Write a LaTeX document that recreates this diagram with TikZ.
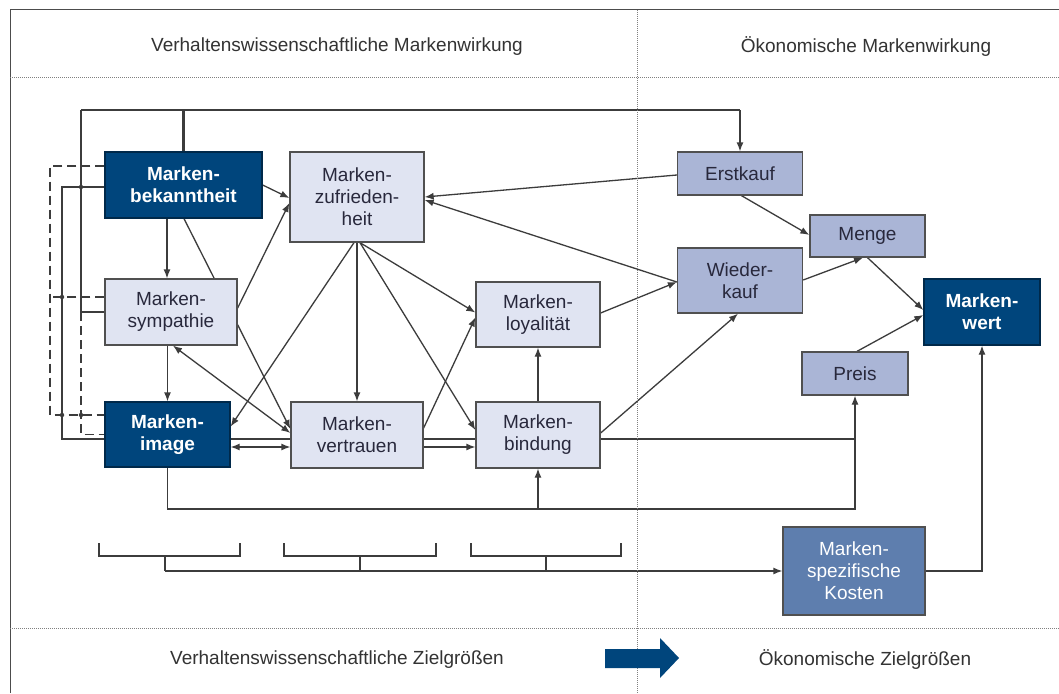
\documentclass[tikz,border=0pt]{standalone}
\usepackage{fontspec}
\setmainfont{Liberation Sans}
\usetikzlibrary{arrows.meta,calc,backgrounds}
\definecolor{dark}{RGB}{0,69,124}
\definecolor{light}{RGB}{224,228,242}
\definecolor{mid}{RGB}{170,181,214}
\definecolor{kost}{RGB}{94,126,174}
\definecolor{edgec}{RGB}{60,60,60}
\definecolor{txt}{RGB}{40,40,60}
\begin{document}
\begin{tikzpicture}[x=1pt,y=-1pt,
 box/.style={draw=edgec!90, line width=1.3pt, inner sep=0pt, align=center, font=\fontsize{19}{22}\selectfont},
 darkbox/.style={box, fill=dark, text=white, draw=dark!60!black, font=\fontsize{19}{22}\selectfont\bfseries},
 lightbox/.style={box, fill=light, text=txt},
 midbox/.style={box, fill=mid, text=txt},
 kbox/.style={box, fill=kost, text=white},
 conn/.style={draw=edgec, line width=1.3pt},
 arr/.style={conn, -{Latex[length=9pt,width=7pt]}},
 darr/.style={conn, {Latex[length=9pt,width=7pt]}-{Latex[length=9pt,width=7pt]}},
 dsh/.style={conn, dash pattern=on 9pt off 5pt},
 brk/.style={draw=edgec, line width=2pt},
 sepline/.style={draw=gray, line width=0.9pt, dash pattern=on 1pt off 1pt},
 hdr/.style={font=\fontsize{19}{22}\selectfont, text=black!80},
 jdot/.style={circle, fill=edgec, inner sep=0pt, minimum size=4.5pt},
]
\useasboundingbox (0,0) rectangle (1059,693);
% frame
\draw[line width=1pt, gray!60!black] (10,693) -- (10,10) -- (1059,10);
\draw[sepline] (10,77) -- (1059,77);
\draw[sepline] (10,628) -- (1059,628);
\draw[sepline] (637,10) -- (637,693);
% headers
\node[hdr] (h1) at (337,47) {Verhaltenswissenschaftliche Markenwirkung};
\node[hdr] (h2) at (866,47) {Ökonomische Markenwirkung};
\node[hdr] (f1) at (337,660) {Verhaltenswissenschaftliche Zielgrößen};
\node[hdr] (f2) at (865,660) {Ökonomische Zielgrößen};
\fill[dark] (605,649) -- (660,649) -- (660,638) -- (679,658) -- (660,678) -- (660,668) -- (605,668) -- cycle;
% nodes
\node[darkbox, minimum width=157pt, minimum height=66pt] (bek) at (183.5,185) {Marken-\\bekanntheit};
\node[lightbox, minimum width=134pt, minimum height=90pt] (zuf) at (357,197) {Marken-\\zufrieden-\\heit};
\node[lightbox, minimum width=132pt, minimum height=66pt] (sym) at (171,312) {Marken-\\sympathie};
\node[darkbox, minimum width=125pt, minimum height=65pt] (img) at (167.5,434.5) {Marken-\\image};
\node[lightbox, minimum width=132pt, minimum height=66pt] (ver) at (357,435) {Marken-\\vertrauen};
\node[lightbox, minimum width=124pt, minimum height=65pt] (loy) at (538,314.5) {Marken-\\loyalität};
\node[lightbox, minimum width=124pt, minimum height=66pt] (bin) at (538,435) {Marken-\\bindung};
\node[midbox, minimum width=125pt, minimum height=43pt] (erst) at (740,173.5) {Erstkauf};
\node[midbox, minimum width=115pt, minimum height=42pt] (menge) at (867.5,236) {Menge};
\node[midbox, minimum width=125pt, minimum height=65pt] (wied) at (740,280.5) {Wieder-\\kauf};
\node[darkbox, minimum width=116pt, minimum height=66pt] (wert) at (982,312) {Marken-\\wert};
\node[midbox, minimum width=106pt, minimum height=43pt] (preis) at (855,373.5) {Preis};
\node[kbox, minimum width=142pt, minimum height=88pt] (kosten) at (854,571) {Marken-\\spezifische\\Kosten};
\begin{pgfonlayer}{background}
\fill[white] (0,0) rectangle (1059,693);
\coordinate (tl) at (81,110);
\coordinate (tr) at (740,110);
\coordinate (xa) at (50,0);
\coordinate (xb) at (62,0);
\coordinate (xc) at (81,0);
\coordinate (yb) at (0,509);
\coordinate (bus) at (165,571);
\coordinate (s1) at ($(sym.north)+(-4,0)$);
% top feedback
\draw[conn] (tl) -- (tr);
\draw[arr] (tr) -- (erst.north);
\draw[conn, line width=2.2pt] (bek.north) -- (bek.north |- tl);
\draw[conn] (tl) -- (tl |- sym.west) -- (sym.west);
\draw[dsh] (tl |- sym.west) -- ($(xc |- img.west)+(0,0)$) -- (img.west);
% dashed bracket
\draw[dsh] ($(bek.west)+(0,-19)$) -| ($(xa |- img.west)+(0,-19.5)$) -- ($(img.west)+(0,-19.5)$);
\draw[dsh] ($(sym.west)+(0,-15)$) -- ($(xa |- sym.west)+(0,-15)$);
% solid bracket and long line to Preis
\draw[arr] ($(bek.west)+(0,2)$) -| ($(xb |- img.west)+(0,4.5)$) -| (preis.south);
\draw[conn] (img.south) |- (preis.south |- yb) -- ($(preis.south)+(0,44)$);
\draw[arr] (bin.south |- yb) -- (bin.south);
% left chain
\draw[arr] (s1 |- bek.south) -- (s1);
\draw[arr] (img.north |- sym.south) -- (img.north);
\draw[arr] ($(bek.south)+(0.5,0)$) -- ($(ver.west)+(0,-6)$);
\draw[arr] (bek.east) -- ($(zuf.west)+(0,1)$);
\draw[arr] ($(sym.east)+(0,-4)$) -- ($(zuf.west)+(0,6)$);
\draw[darr] ($(sym.south)+(2,0)$) -- ($(ver.west)+(0,-2)$);
\draw[arr] ($(zuf.south)+(-3,0)$) -- ($(img.east)+(0,-8)$);
\draw[arr] (zuf.south) -- (ver.north);
\draw[arr] ($(zuf.south)+(3,0)$) -- ($(loy.west)+(0,-2)$);
\draw[arr] ($(zuf.south)+(3,0)$) -- ($(bin.west)+(0,-5)$);
\draw[arr] ($(ver.east)+(0,-7)$) -- ($(loy.west)+(0,3)$);
\draw[darr] ($(img.east)+(0,12.5)$) -- ($(ver.west)+(0,12)$);
\draw[arr] ($(ver.east)+(0,12)$) -- ($(bin.west)+(0,12)$);
\draw[arr] (bin.north) -- (loy.south);
% economic side
\draw[arr] ($(erst.west)+(0,1.5)$) -- (zuf.east);
\draw[arr] ($(wied.west)+(0,1.5)$) -- ($(zuf.east)+(0,3)$);
\draw[arr] ($(loy.east)+(0,-1.5)$) -- ($(wied.west)+(0,1.5)$);
\draw[arr] ($(bin.east)+(0,-2)$) -- ($(wied.south)+(-2,0)$);
\draw[arr] ($(erst.south)+(1.5,0)$) -- ($(menge.west)+(0,-1)$);
\draw[arr] ($(wied.east)+(0,-0.5)$) -- ($(menge.south)+(-4.5,0)$);
\draw[arr] (menge.south) -- ($(wert.west)+(0,-2)$);
\draw[arr] ($(preis.north)+(2,0)$) -- ($(wert.west)+(0,3)$);
\draw[arr] (kosten.east) -| (wert.south);
% brackets
\draw[brk] (99,543) |- (240,556) -- (240,543);
\draw[brk] (284,543) |- (436,556) -- (436,543);
\draw[brk] (471,543) |- (621,556) -- (621,543);
\draw[brk] (165,556) -- (bus);
\draw[brk] (360,556) -- (360,571);
\draw[brk] (546,556) -- (546,571);
\draw[arr] (bus) -- (kosten.west);
\end{pgfonlayer}
% junction dots
\node[jdot] (d1) at ($(xc |- bek.west)+(0,2)$) {};
\node[jdot] (d2) at ($(xb |- sym.west)+(0,-15)$) {};
\node[jdot] (d3) at ($(xb |- img.west)+(0,-19.5)$) {};
\node[jdot] (d4) at ($(xc |- img.west)+(0,-19.5)$) {};
\end{tikzpicture}
\end{document}
